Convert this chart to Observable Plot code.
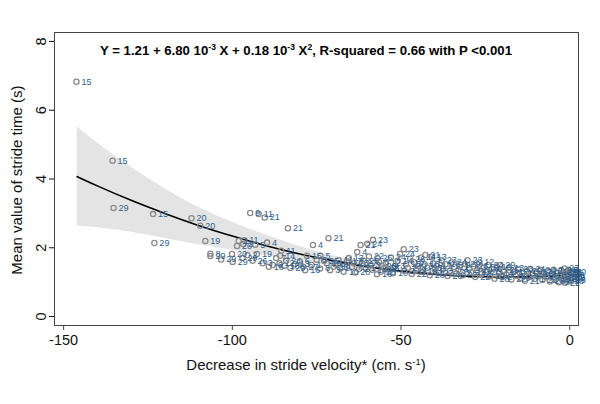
<!DOCTYPE html>
<html>
<head>
<meta charset="utf-8">
<script src="https://cdn.jsdelivr.net/npm/d3@7"></script>
<script src="https://cdn.jsdelivr.net/npm/@observablehq/plot@0.6"></script>
<style>
  html, body { margin: 0; padding: 0; background: #fff; }
  #chart { width: 600px; height: 404px; }
  svg { font-family: "Liberation Sans", Arial, sans-serif; }
</style>
</head>
<body>
<div id="chart"></div>
<script>
// ---- Data ----
const xTicks = [-150, -100, -50, 0];
const yTicks = [0, 2, 4, 6, 8];

// Observations: decrease in stride velocity (x), mean stride time (y), subject id (label)
const obsX = [
  -146.2, -135.5, -135.2, -123.5, -123.1, -112.1, -109.5, -108.0, -106.5, -106.5,
  -103.3, -100.1, -99.9, -98.6, -98.1, -96.8, -94.7, -92.2, -90.4, -83.5,
  -71.5, -76.1, -89.7, -96.5, -93.2, -92.7, -95.5, -97.0, -89.2, -82.8,
  -78.4, -85.5, -85.8, -84.0, -86.0, -80.0, -73.9, -77.9, -75.0, -72.0,
  -70.0, -68.5, -66.0, -64.0, -63.0, -62.0, -58.3, -60.0, -61.0, -59.0,
  -57.0, -56.0, -55.0,
  -71.0, -69.5, -68.0, -67.0, -65.5, -64.5, -63.6, -62.5, -61.5, -60.5,
  -59.5, -58.5, -57.1, -56.5, -55.8,
  -94.0, -91.0, -88.0, -87.0, -84.5, -81.5, -79.0, -76.5, -74.0, -72.8,
  -54.5, -53.8, -53.0, -52.4, -51.7, -51.0, -50.3, -49.2, -49.0, -48.5,
  -48.0, -47.3, -46.8, -46.1, -45.5, -45.0, -44.1, -43.6, -43.0, -42.8,
  -42.2, -41.5, -40.9, -40.5, -40.0,
  -39.4, -38.8, -37.9, -37.5, -36.8, -36.2, -35.5, -34.9, -34.2, -33.6,
  -33.0, -32.4, -31.7, -31.0, -30.3, -29.8, -29.2, -28.6, -28.0, -27.4,
  -26.8, -26.2, -25.5,
  -24.8, -24.1, -23.6, -23.0, -22.3, -21.7, -21.0, -20.6, -20.0, -19.4,
  -18.7, -18.0, -17.3, -16.6, -16.0, -15.3, -14.6, -14.0, -13.3, -12.7,
  -12.0, -11.7, -11.0, -10.4,
  -9.8, -9.3, -8.7, -8.1, -7.6, -7.0, -6.5, -5.9, -5.4, -4.8,
  -4.3, -3.7, -3.2,
  -2.8, -2.5, -2.2, -2.0, -1.8, -1.6, -1.4, -1.2, -1.0, -0.8,
  -0.6, -0.4, -0.2, 0.0, 0.2, -0.5, -0.1, 0.3, -0.3, 0.1,
  -1.1, -0.7, 0.4
];
const obsY = [
  6.83, 4.53, 3.16, 2.98, 2.14, 2.86, 2.64, 2.20, 1.83, 1.76,
  1.66, 1.82, 1.59, 2.05, 2.20, 2.11, 3.01, 2.98, 2.88, 2.57,
  2.28, 2.08, 2.15, 2.22, 2.09, 1.82, 1.78, 1.70, 1.45, 1.41,
  1.35, 1.91, 1.77, 1.62, 1.55, 1.60, 1.77, 1.77, 1.65, 1.55,
  1.45, 1.64, 1.60, 1.55, 1.88, 2.08, 2.23, 2.12, 1.62, 1.50,
  1.70, 1.30, 1.42,
  1.35, 1.52, 1.40, 1.30, 1.70, 1.45, 1.28, 1.38, 1.55, 1.42,
  1.75, 1.36, 1.23, 1.58, 1.48,
  1.62, 1.55, 1.50, 1.70, 1.48, 1.52, 1.45, 1.50, 1.40, 1.62,
  1.55, 1.38, 1.72, 1.26, 1.47, 1.62, 1.82, 1.96, 1.33, 1.52,
  1.41, 1.68, 1.24, 1.58, 1.36, 1.47, 1.72, 1.30, 1.52, 1.79,
  1.42, 1.20, 1.74, 1.55, 1.37,
  1.48, 1.27, 1.64, 1.40, 1.52, 1.18, 1.33, 1.57, 1.44, 1.25,
  1.36, 1.50, 1.20, 1.53, 1.64, 1.40, 1.28, 1.46, 1.15, 1.35,
  1.57, 1.24, 1.42,
  1.30, 1.50, 1.18, 1.38, 1.10, 1.45, 1.26, 1.50, 1.15, 1.34,
  1.22, 1.42, 1.08, 1.30, 1.19, 1.38, 1.12, 1.27, 1.04, 1.33,
  1.16, 1.38, 1.22, 1.09,
  1.30, 1.18, 1.36, 1.06, 1.25, 1.14, 1.32, 1.02, 1.21, 1.36,
  1.10, 1.28, 1.00,
  1.18, 1.34, 1.06, 1.26, 1.12, 1.40, 0.98, 1.22, 1.30, 1.08,
  1.16, 1.36, 1.02, 1.24, 1.12, 1.28, 1.20, 1.05, 1.32, 1.15,
  1.14, 1.26, 1.30
];
const obsId = [
  15, 15, 29, 15, 29, 20, 20, 19, 8, 29,
  29, 20, 29, 20, 1, 2, 9, 11, 21, 21,
  21, 4, 4, 11, 5, 19, 2, 29, 16, 29,
  16, 11, 14, 24, 12, 6, 5, 15, 6, 19,
  26, 11, 17, 23, 4, 21, 23, 24, 26, 3,
  25, 28, 18,
  3, 8, 9, 10, 13, 7, 28, 2, 27, 1,
  22, 14, 16, 6, 20,
  26, 3, 6, 7, 10, 13, 27, 1, 8, 25,
  12, 7, 24, 10, 3, 14, 24, 23, 2, 16,
  27, 26, 22, 6, 9, 13, 24, 18, 16, 21,
  25, 28, 13, 5, 8,
  17, 22, 23, 1, 16, 28, 7, 24, 11, 22,
  4, 9, 27, 29, 23, 1, 18, 26, 22, 10,
  12, 3, 19,
  20, 24, 22, 6, 28, 16, 14, 29, 2, 25,
  27, 13, 22, 17, 5, 23, 9, 11, 21, 20,
  4, 24, 26, 1,
  27, 15, 24, 22, 20, 3, 13, 28, 16, 7,
  19, 12, 8,
  2, 24, 14, 10, 5, 27, 22, 17, 21, 3,
  26, 6, 18, 9, 25, 11, 13, 23, 4, 29,
  1, 15, 20
];

// Quadratic fit and its confidence band, read at these x positions
const fitX  = [-146, -140, -130, -120, -110, -100, -90, -80, -70, -60, -50, -40, -30, -20, -10, 0];
const fitY  = [4.07, 3.80, 3.38, 3.00, 2.65, 2.34, 2.06, 1.82, 1.62, 1.45, 1.32, 1.23, 1.17, 1.15, 1.16, 1.21];
const fitHi = [5.52, 5.05, 4.35, 3.72, 3.18, 2.74, 2.37, 2.04, 1.77, 1.57, 1.41, 1.30, 1.23, 1.21, 1.22, 1.28];
const fitLo = [2.63, 2.58, 2.45, 2.27, 2.09, 1.93, 1.77, 1.61, 1.47, 1.34, 1.24, 1.16, 1.11, 1.09, 1.10, 1.14];

// ---- Build tables ----
const points = obsX.map((x, i) => ({x, y: obsY[i], id: obsId[i]}));
const fit = fitX.map((x, i) => ({x, y: fitY[i], lo: fitLo[i], hi: fitHi[i]}));

const labelBlue = "#2e5f8e";

const chart = Plot.plot({
  width: 600,
  height: 404,
  marginLeft: 54,
  marginRight: 22,
  marginTop: 32,
  marginBottom: 79,
  style: {fontFamily: "Liberation Sans, Arial, sans-serif", background: "white", overflow: "visible"},
  x: {domain: [-152.7, 2.6]},
  y: {domain: [-0.26, 8.26]},
  marks: [
    Plot.areaY(fit, {x: "x", y1: "lo", y2: "hi", fill: "#e4e4e4", curve: "monotone-x"}),
    Plot.line(fit, {x: "x", y: "y", stroke: "#000", strokeWidth: 1.6, curve: "monotone-x"}),
    Plot.dot(points, {x: "x", y: "y", r: 2.6, stroke: "#8a8a8a", strokeWidth: 1.3, fill: "none"}),
    Plot.text(points, {x: "x", y: "y", text: "id", dx: 5, textAnchor: "start", fill: labelBlue, fontSize: 9}),
    Plot.frame({stroke: "#444", strokeWidth: 1}),
    Plot.axisX({ticks: xTicks, tickSize: 5, tickPadding: 4, fontSize: 14.5, tickFormat: d => String(d), label: null, stroke: "#444", color: "#111"}),
    Plot.axisY({ticks: yTicks, tickSize: 5, tickPadding: 4, fontSize: 14.5, tickRotate: -90, tickFormat: d => String(d), label: null, color: "#111"})
  ]
});

document.getElementById("chart").appendChild(chart);

// ---- Titles with superscripts ----
const svg = d3.select(chart);
const t = svg.append("text")
  .attr("x", 306).attr("y", 55)
  .attr("text-anchor", "middle")
  .attr("font-size", 13.2).attr("font-weight", "bold").attr("fill", "#000");
const sup = (s) => t.append("tspan").attr("font-size", 8.5).attr("dy", -5).text(s);
const base = (s) => t.append("tspan").attr("font-size", 13.2).attr("dy", 5).text(s);
t.append("tspan").text("Y = 1.21 + 6.80 10");
sup("-3"); base(" X + 0.18 10");
sup("-3"); base(" X");
sup("2"); base(", R-squared = 0.66 with P <0.001");

const xl = svg.append("text")
  .attr("x", 306).attr("y", 370)
  .attr("text-anchor", "middle")
  .attr("font-size", 15).attr("fill", "#111");
xl.append("tspan").text("Decrease in stride velocity* (cm. s");
xl.append("tspan").attr("font-size", 9.5).attr("dy", -5).text("-1");
xl.append("tspan").attr("dy", 5).text(")");

svg.append("text")
  .attr("transform", "translate(22,180) rotate(-90)")
  .attr("text-anchor", "middle")
  .attr("font-size", 15).attr("fill", "#111")
  .text("Mean value of stride time (s)");
</script>
</body>
</html>
